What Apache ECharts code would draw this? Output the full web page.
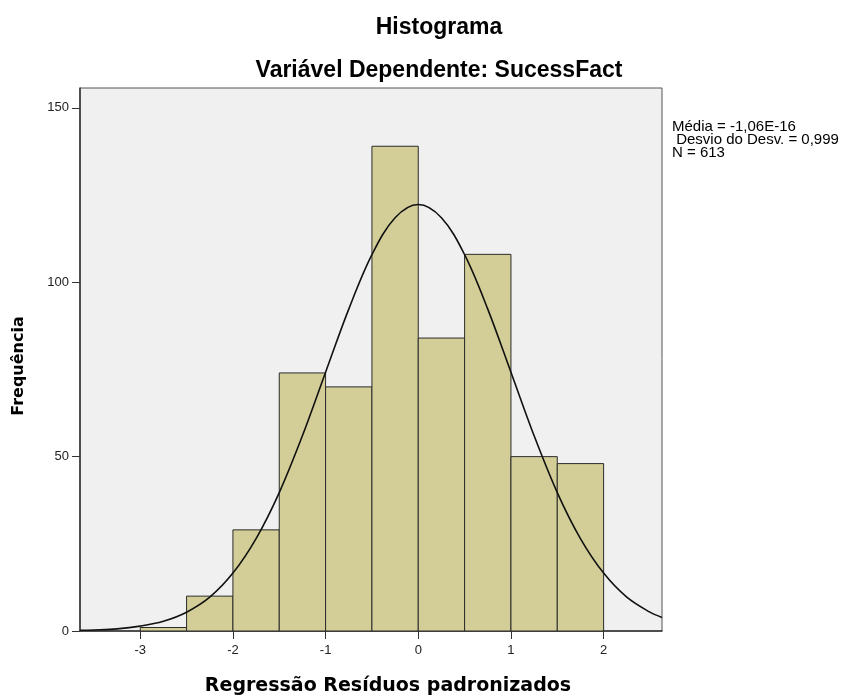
<!DOCTYPE html>
<html><head><meta charset="utf-8">
<script src="https://cdn.jsdelivr.net/npm/echarts@6/dist/echarts.min.js"></script>
<style>html,body{margin:0;padding:0;background:#fff}#c{width:849px;height:696px}</style>
</head><body><div id="c"></div>
<script>
// Histogram bins (start of each bin, width 0.5) and counts
const binStarts = [-3, -2.5, -2, -1.5, -1, -0.5, 0, 0.5, 1, 1.5];
const binWidth = 0.5;
const counts = [1, 10, 29, 74, 70, 139, 84, 108, 50, 48];
// Normal curve
const curveX = [-3.65, -3.5, -3.25, -3, -2.75, -2.5, -2.25, -2, -1.75, -1.5, -1.25, -1, -0.75, -0.5, -0.25, 0, 0.25, 0.5, 0.75, 1, 1.25, 1.5, 1.75, 2, 2.25, 2.5, 2.63];
const curveY = [0.2, 0.3, 0.6, 1.4, 2.8, 5.4, 9.7, 16.6, 26.5, 39.7, 56, 74.2, 92.3, 107.9, 118.5, 122.3, 118.5, 107.9, 92.3, 74.2, 56, 39.7, 26.5, 16.6, 9.7, 5.4, 3.9];
const xTicks = [-3, -2, -1, 0, 1, 2];
const yTicks = [0, 50, 100, 150];
const statsLines = ['Média = -1,06E-16', ' Desvio do Desv. = 0,999', 'N = 613'];
const titleText = 'Histograma';
const subtitleText = 'Variável Dependente: SucessFact';
const xName = 'Regressão Resíduos padronizados';
const yName = 'Frequência';

const chart = echarts.init(document.getElementById('c'), null, {renderer: 'canvas'});
const font = 'Arial, "Liberation Sans", sans-serif';
const fontDV = '"DejaVu Sans", sans-serif';
const barData = binStarts.map((s, i) => [s, s + binWidth, counts[i]]);
const curveData = curveX.map((x, i) => [x, curveY[i]]);

chart.setOption({
  animation: false,
  grid: {left: 80, right: 187, top: 88, bottom: 65, show: true, backgroundColor: '#f0f0f0', borderColor: '#555', borderWidth: 1},
  xAxis: {
    type: 'value', min: -3.65, max: 2.63,
    axisLine: {show: true, onZero: false, lineStyle: {color: '#333', width: 1.5}},
    axisTick: {show: true, length: 8, customValues: xTicks, lineStyle: {color: '#333'}},
    axisLabel: {customValues: xTicks, fontFamily: font, fontSize: 13, color: '#222', margin: 13},
    splitLine: {show: false}
  },
  yAxis: {
    type: 'value', min: 0, max: 155.7,
    axisLine: {show: true, onZero: false, lineStyle: {color: '#333', width: 1.5}},
    axisTick: {show: true, length: 8, customValues: yTicks, lineStyle: {color: '#333'}},
    axisLabel: {customValues: yTicks, fontFamily: font, fontSize: 13, color: '#222', margin: 11},
    splitLine: {show: false}
  },
  series: [
    {
      type: 'custom',
      data: barData,
      encode: {x: [0, 1], y: 2},
      renderItem: function (params, api) {
        const p0 = api.coord([api.value(0), api.value(2)]);
        const p1 = api.coord([api.value(1), 0]);
        return {
          type: 'rect',
          shape: {x: p0[0], y: p0[1], width: p1[0] - p0[0], height: p1[1] - p0[1]},
          style: {fill: '#d3ce97', stroke: '#2b2b2b', lineWidth: 1}
        };
      },
      z: 2
    },
    {
      type: 'line', data: curveData, smooth: 0.35, showSymbol: false,
      lineStyle: {color: '#111', width: 1.6}, z: 3
    }
  ],
  graphic: [
    {type: 'text', x: 439, y: 28, z: 10,
     style: {text: titleText, fontFamily: font, fontSize: 23, fontWeight: 'bold', fill: '#000', align: 'center', verticalAlign: 'middle'}},
    {type: 'text', x: 439, y: 71, z: 10,
     style: {text: subtitleText, fontFamily: font, fontSize: 23, fontWeight: 'bold', fill: '#000', align: 'center', verticalAlign: 'middle'}},
    {type: 'text', x: 388, y: 686, z: 10,
     style: {text: xName, fontFamily: fontDV, fontSize: 19, fontWeight: 'bold', fill: '#000', align: 'center', verticalAlign: 'middle'}},
    {type: 'text', x: 19, y: 366, rotation: Math.PI / 2, z: 10,
     style: {text: yName, fontFamily: fontDV, fontSize: 16, fontWeight: 'bold', fill: '#000', align: 'center', verticalAlign: 'middle'}},
    {type: 'text', x: 672, y: 120, z: 10,
     style: {text: statsLines.join('\n'), fontFamily: font, fontSize: 15, lineHeight: 13, fill: '#000'}}
  ]
});
</script>
</body></html>
